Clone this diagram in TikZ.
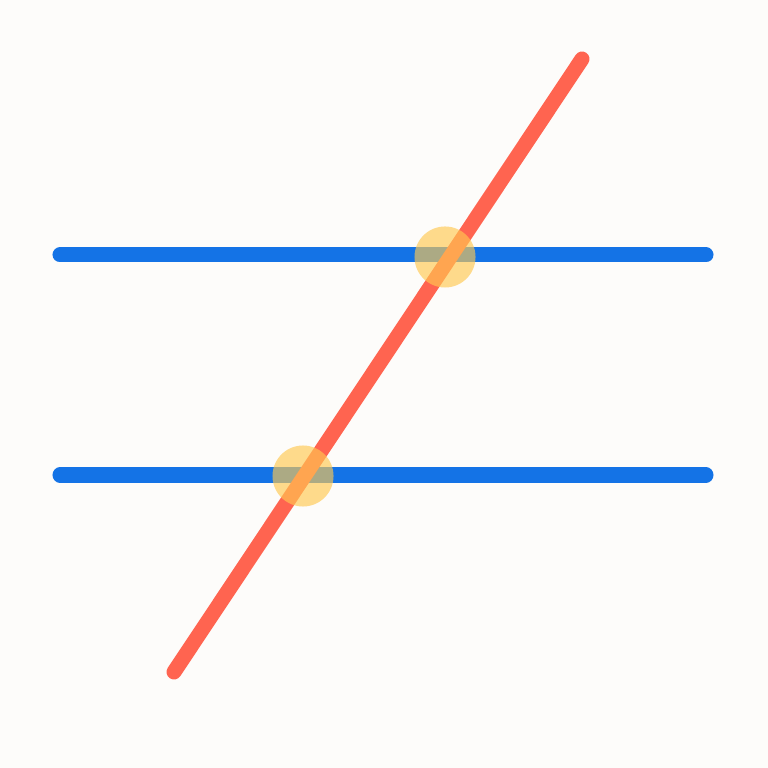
\documentclass[tikz,border=0pt]{standalone}
\usetikzlibrary{calc}
\definecolor{paper}{HTML}{FDFCFA}
\definecolor{parblue}{HTML}{1473E6}
\definecolor{transred}{HTML}{FF6450}
\definecolor{markyellow}{HTML}{FFC850}

\begin{document}
\begin{tikzpicture}[
        x=0.01cm, y=-0.01cm,
        parallel/.style={draw=parblue, line width=0.15cm, line cap=round},
        transversal/.style={draw=transred, line width=0.15cm, line cap=round},
        spot/.style={circle, fill=markyellow, fill opacity=0.65, minimum size=0.61cm, inner sep=0pt}
    ]

    % Background
    \fill[paper] (0,0) rectangle (768,768);
    \useasboundingbox (0,0) rectangle (768,768);

    % End points
    \coordinate (topL) at (60,255);
    \coordinate (topR) at (706,255);
    \coordinate (botL) at (60,475);
    \coordinate (botR) at (706,475);
    \coordinate (redA) at (174,672);
    \coordinate (redB) at (582,59);

    % Parallel lines
    \draw[parallel] (topL) -- (topR);
    \draw[parallel] (botL) -- (botR);

    % Transversal
    \draw[transversal] (redA) -- (redB);

    % Angle markers
    \node[spot] (cutTop) at (445,257) {};
    \node[spot] (cutBot) at (303,476) {};

\end{tikzpicture}
\end{document}
